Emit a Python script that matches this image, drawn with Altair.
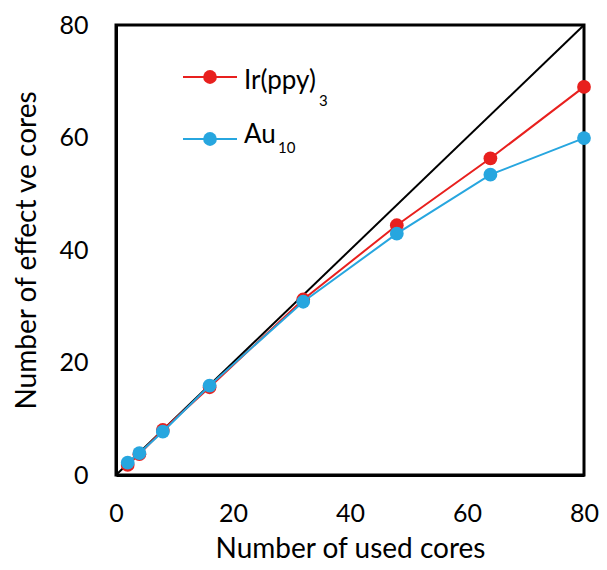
import altair as alt
import pandas as pd

cores = [2, 4, 8, 16, 32, 48, 64, 80]
ir_ppy3 = [1.8, 3.7, 8.0, 15.6, 31.2, 44.4, 56.3, 69.0]
au10 = [2.2, 3.9, 7.7, 15.9, 30.8, 42.9, 53.4, 59.9]
ideal = [0, 80]

series_names = ["Ir(ppy)3", "Au10"]
colors = ["#E8201E", "#27A6DF"]
legend_main = ["Ir(ppy)", "Au"]
legend_sub = ["3", "10"]

FONT = "Lato"

df = pd.DataFrame({
    "cores": cores * 2,
    "eff": ir_ppy3 + au10,
    "series": [series_names[0]] * len(cores) + [series_names[1]] * len(cores),
})
ideal_df = pd.DataFrame({"cores": ideal, "eff": ideal})

xs = alt.Scale(domain=[0, 80], nice=False)
ys = alt.Scale(domain=[0, 80], nice=False)
common = dict(grid=False, ticks=False, domainColor="black", domainWidth=3,
              labelFontSize=25, labelFont=FONT, labelColor="black",
              titleFontSize=28, titleFont=FONT, titleFontWeight="normal",
              titleColor="black", labelFlush=False)
xax = alt.Axis(values=[0, 20, 40, 60, 80], title="Number of used cores",
               labelPadding=26, titlePadding=9, **common)
yax = alt.Axis(values=[0, 20, 40, 60, 80], title="Number of effect ve cores",
               labelPadding=28, titlePadding=17, **common)

diag = alt.Chart(ideal_df).mark_line(color="black", strokeWidth=2).encode(
    x=alt.X("cores:Q", scale=xs, axis=xax),
    y=alt.Y("eff:Q", scale=ys, axis=yax),
)

layers = [diag]
for name, col in zip(series_names, colors):
    base = alt.Chart(df).transform_filter(alt.datum.series == name)
    layers.append(base.mark_line(color=col, strokeWidth=2).encode(
        x=alt.X("cores:Q", scale=xs), y=alt.Y("eff:Q", scale=ys)))
    layers.append(base.mark_circle(color=col, size=190, opacity=1).encode(
        x=alt.X("cores:Q", scale=xs), y=alt.Y("eff:Q", scale=ys)))

# manual legend (pixel layout inside the plot area)
leg_y = [52, 114]
text_base = [64, 118]
sub_x = [203, 162]
sub_base = [81, 128]
for i, (name, col) in enumerate(zip(series_names, colors)):
    ld = pd.DataFrame({"series": [name]})
    c = alt.Chart(ld)
    layers.append(c.mark_rule(color=col, strokeWidth=2).encode(
        x=alt.value(67), x2=alt.value(121), y=alt.value(leg_y[i])))
    layers.append(c.mark_circle(color=col, size=190, opacity=1).encode(
        x=alt.value(94), y=alt.value(leg_y[i])))
    layers.append(c.mark_text(align="left", baseline="alphabetic", fontSize=26,
                              font=FONT, color="black").encode(
        x=alt.value(128), y=alt.value(text_base[i]), text=alt.value(legend_main[i])))
    layers.append(c.mark_text(align="left", baseline="alphabetic", fontSize=15,
                              font=FONT, color="black").encode(
        x=alt.value(sub_x[i]), y=alt.value(sub_base[i]),
        text=alt.value(legend_sub[i])))

chart = alt.layer(*layers).properties(
    width=468, height=450,
    autosize=alt.AutoSizeParams(type="none"),
    padding={"left": 108, "top": 17, "right": 15, "bottom": 87},
).configure_view(stroke="black", strokeWidth=3)

chart.save("out.html", embed_options={"renderer": "svg", "actions": False})
